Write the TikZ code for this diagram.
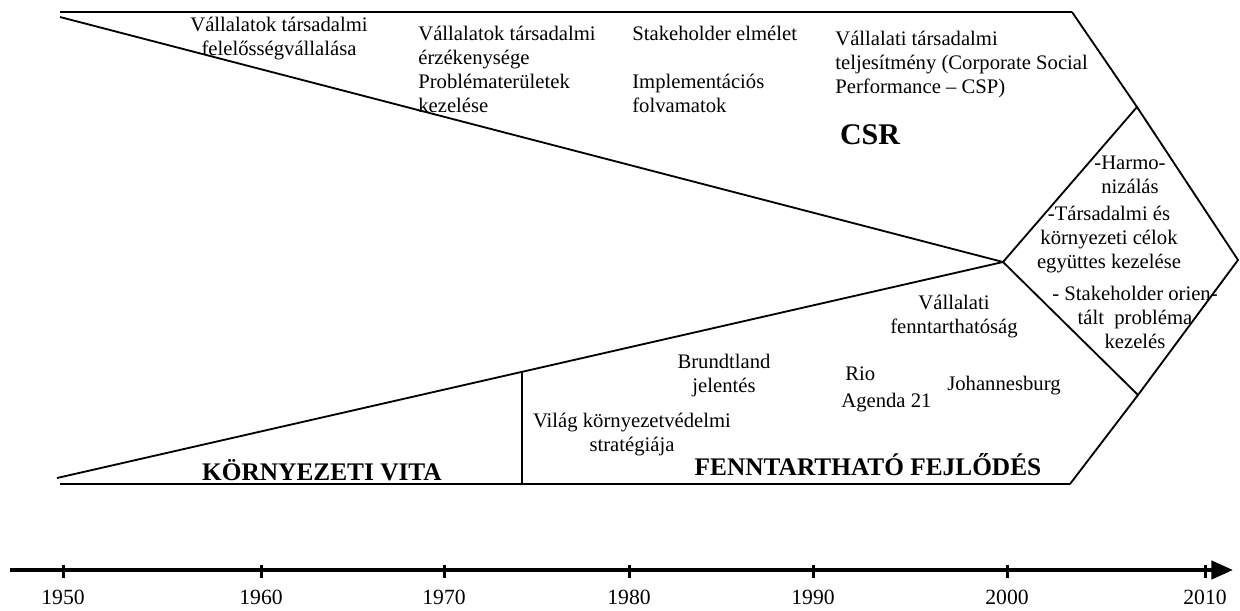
\documentclass[tikz,border=0pt]{standalone}
\usepackage{fontspec}
\setmainfont{Liberation Serif}
\usetikzlibrary{arrows.meta}
\tikzset{
  txt/.style={inner sep=0pt, font=\fontsize{12.4}{14.4}\selectfont},
  ltxt/.style={txt, align=left},
  ctxt/.style={txt, align=center},
  big/.style={inner sep=0pt, font=\fontsize{15.2}{18}\selectfont\bfseries},
  csr/.style={inner sep=0pt, font=\fontsize{18}{20}\selectfont\bfseries},
  yr/.style={inner sep=0pt, font=\fontsize{13}{15}\selectfont},
  edge/.style={line width=1.1pt, line join=miter},
  rim/.style={line width=1.4pt},
  axis/.style={line width=2.2pt, -{Triangle[length=13pt,width=11pt]}},
  tick/.style={line width=1.8pt}
}
\begin{document}
\begin{tikzpicture}[x=0.6pt,y=-0.6pt]
\useasboundingbox (0,0) rectangle (1240,610);
% key points
\coordinate (TL) at (60,12);
\coordinate (TR) at (1072,12);
\coordinate (DT) at (1137,107);
\coordinate (RV) at (1238,260);
\coordinate (DB) at (1138,395);
\coordinate (BR) at (1070,484);
\coordinate (BL) at (60,484);
\coordinate (C) at (1003,262);
\coordinate (U0) at (60,17);
\coordinate (L0) at (57,478);
\coordinate (V0) at (522,371.8);
\coordinate (V1) at (522,484);
% outline
\draw[rim] (TL) -- (TR);
\draw[rim] (BL) -- (BR);
\draw[edge] (TR) -- (DT) -- (RV) -- (DB) -- (BR);
\draw[edge] (U0) -- (C);
\draw[edge] (L0) -- (C);
\draw[edge] (C) -- (DT);
\draw[edge] (C) -- (DB);
\draw[edge] (V0) -- (V1);
% upper texts
\node[ctxt] (t1) at (279,38.5) {Vállalatok társadalmi\\felelősségvállalása};
\node[ltxt, anchor=west] (t2) at (418,69) {Vállalatok társadalmi\\érzékenysége\\Problématerületek\\kezelése};
\node[ltxt, anchor=west] (t3) at (632,33) {Stakeholder elmélet};
\node[ltxt, anchor=west] (t4) at (632,93.5) {Implementációs\\folvamatok};
\node[ltxt, anchor=west] (t5) at (835,65) {Vállalati társadalmi\\teljesítmény (Corporate Social\\Performance – CSP)};
\node[csr] (csr) at (870,135) {CSR};
% diamond texts
\node[ctxt] (d1) at (1130,175) {-Harmo-\\nizálás};
\node[ctxt] (d2) at (1109,240) {-Társadalmi és\\környezeti célok\\együttes kezelése};
\node[ctxt] (d3) at (1135,317) {- Stakeholder orien-\\tált\ \ probléma\\kezelés};
% lower texts
\node[ctxt] (b1) at (954,316.5) {Vállalati\\fenntarthatóság};
\node[ctxt] (b2) at (724,376) {Brundtland\\jelentés};
\node[ltxt, anchor=west] (b3) at (845,374) {Rio};
\node[ltxt, anchor=west] (b4) at (841,403) {Agenda 21};
\node[ltxt, anchor=west] (b5) at (947,386) {Johannesburg};
\node[ctxt] (b6) at (632,435) {Világ környezetvédelmi\\stratégiája};
\node[big] (ff) at (868,465) {FENNTARTHATÓ FEJLŐDÉS};
\node[big] (kv) at (322,470) {KÖRNYEZETI VITA};
% time axis
\coordinate (A0) at (10,570);
\coordinate (A1) at (1233,570);
\draw[axis] (A0) -- (A1);
\foreach \x/\y in {63/1950,261/1960,444/1970,629/1980,813/1990,1007/2000,1205/2010}{
  \draw[tick] (\x,565) -- (\x,578);
  \node[yr] (y\y) at (\x,597) {\y};
}
\end{tikzpicture}
\end{document}
